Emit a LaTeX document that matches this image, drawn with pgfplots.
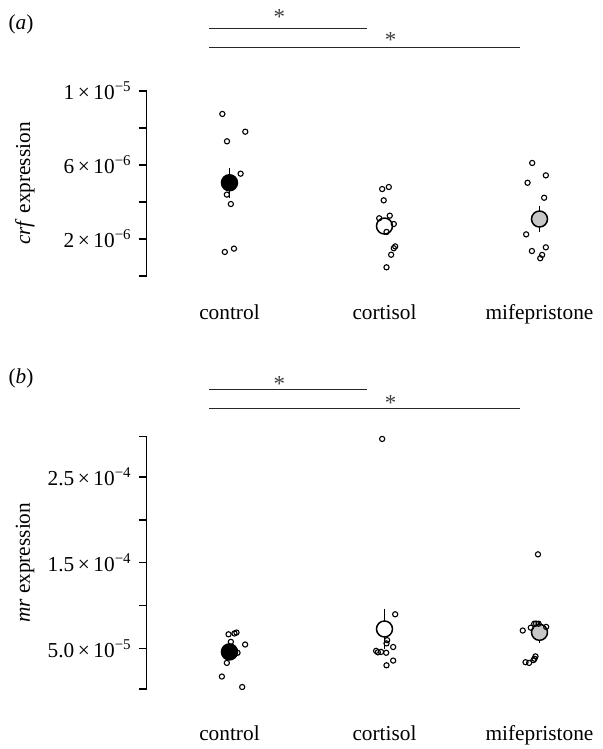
\documentclass[border=0pt]{standalone}
\usepackage{fontspec}
\setmainfont{Liberation Serif}
\usepackage{pgfplots}
\pgfplotsset{compat=1.18}

\pgfplotsset{
  panel/.style={
    scale only axis, width=227.4bp,
    xmin=0.466, xmax=3.4,
    axis y line*=left, axis x line*=bottom,
    x axis line style={draw=none},
    y axis line style={line width=0.6bp, -},
    xtick={1,2,3}, xticklabels={control,cortisol,mifepristone},
    xtick style={draw=none},
    ytick style={line width=0.6bp, black},
    tick align=outside, major tick length=4bp,
    scaled y ticks=false,
    clip=false,
    font=\fontsize{10.7}{12.5}\selectfont,
    xticklabel style={anchor=base},
    yticklabel style={anchor=east},
    ylabel style={at={(axis description cs:0,0.5)}, anchor=center, yshift=60.85bp},
  },
  pts/.style={only marks, mark=o, mark size=1.3bp, mark options={line width=0.55bp, black}},
  mean/.style={only marks, mark=*, mark size=4bp,
    mark options={draw=black, line width=0.75bp, fill=#1},
    error bars/.cd, y dir=both, y explicit, error mark=none,
    error bar style={line width=0.75bp, black}},
  sig/.style={black!85, line width=0.5bp, mark=none},
}
\tikzset{star/.style={font=\fontsize{11.5}{12}\selectfont, text=black!75, yshift=-1.6bp}}

\begin{document}
\begin{tikzpicture}
\useasboundingbox (-73.35bp,-236.5bp) rectangle (228.15bp,138bp);

% (a) crf
\begin{axis}[panel, at={(0,0)}, anchor=south west, height=92.5bp,
  ymin=0, ymax=1e-5,
  ytick={0,2e-6,4e-6,6e-6,8e-6,1e-5},
  yticklabels={{},{2\,×\,10\textsuperscript{−6}},{},{6\,×\,10\textsuperscript{−6}},{},{1\,×\,10\textsuperscript{−5}}},
  xticklabel style={yshift=-17.5bp},
  ylabel={\textit{crf} expression}]
\addplot[mean=black] coordinates {(1,5.04e-6) +- (0,0.81e-6)};
\addplot[mean=white] coordinates {(2,2.70e-6) +- (0,0.38e-6)};
\addplot[mean=black!22] coordinates {(3,3.08e-6) +- (0,0.69e-6)};
\addplot[pts] coordinates {
  (0.954,8.76e-6) (1.102,7.80e-6) (0.984,7.28e-6) (1.072,5.53e-6)
  (0.983,4.40e-6) (1.009,3.89e-6) (0.970,1.30e-6) (1.029,1.48e-6)};
\addplot[pts] coordinates {
  (1.985,4.70e-6) (2.028,4.81e-6) (1.995,4.09e-6) (1.966,3.12e-6)
  (2.034,3.26e-6) (2.060,2.81e-6) (2.013,2.38e-6) (2.069,1.60e-6)
  (2.060,1.50e-6) (2.043,1.15e-6) (2.013,0.47e-6)};
\addplot[pts] coordinates {
  (2.953,6.11e-6) (3.041,5.44e-6) (2.923,5.04e-6) (3.030,4.23e-6)
  (2.914,2.25e-6) (2.951,1.35e-6) (3.041,1.55e-6) (3.017,1.14e-6)
  (3.005,0.96e-6)};
\addplot[sig] coordinates {(0.870,1.3405e-5) (1.885,1.3405e-5)};
\addplot[sig] coordinates {(0.870,1.2378e-5) (2.874,1.2378e-5)};
\node[star] at (axis cs:1.321,1.416e-5) {*};
\node[star] at (axis cs:2.040,1.2935e-5) {*};
\end{axis}

% (b) mr
\begin{axis}[panel, at={(0,-206.5bp)}, anchor=south west, height=126.15bp,
  ymin=3.1e-6, ymax=2.969e-4,
  ytick={3.1e-6,5e-5,1e-4,1.5e-4,2e-4,2.5e-4,2.969e-4},
  yticklabels={{},{5.0\,×\,10\textsuperscript{−5}},{},{1.5\,×\,10\textsuperscript{−4}},{},{2.5\,×\,10\textsuperscript{−4}},{}},
  xticklabel style={yshift=-21.5bp},
  ylabel={\textit{mr} expression}]
\addplot[mean=black] coordinates {(1,4.63e-5) +- (0,0.6e-5)};
\addplot[mean=white] coordinates {(2,7.30e-5) +- (0,2.29e-5)};
\addplot[mean=black!22] coordinates {(3,6.91e-5) +- (0,1.28e-5)};
\addplot[pts] coordinates {
  (0.994,6.68e-5) (1.032,6.78e-5) (1.045,6.88e-5) (1.009,5.80e-5)
  (1.101,5.49e-5) (1.052,4.53e-5) (0.983,3.35e-5) (0.951,1.76e-5)
  (1.082,0.54e-5)};
\addplot[pts] coordinates {
  (1.985,2.943e-4) (2.069,9.01e-5) (2.017,6.00e-5) (2.013,5.62e-5)
  (2.056,5.20e-5) (1.946,4.75e-5) (1.957,4.58e-5) (1.978,4.63e-5)
  (2.011,4.53e-5) (2.056,3.62e-5) (2.013,3.07e-5)};
\addplot[pts] coordinates {
  (2.990,1.599e-4) (2.892,7.12e-5) (2.944,7.45e-5) (2.966,7.91e-5)
  (2.978,7.93e-5) (2.994,7.91e-5) (3.043,7.54e-5) (2.974,4.11e-5)
  (2.968,3.83e-5) (2.961,3.68e-5) (2.910,3.43e-5) (2.933,3.35e-5)};
\addplot[sig] coordinates {(0.870,3.521e-4) (1.885,3.521e-4)};
\addplot[sig] coordinates {(0.870,3.30e-4) (2.874,3.30e-4)};
\node[star] at (axis cs:1.321,3.621e-4) {*};
\node[star] at (axis cs:2.040,3.397e-4) {*};
\end{axis}

\node at (-62.85bp,126bp) {\fontsize{10.7}{12.5}\selectfont(\textit{a})};
\node at (-62.85bp,-51bp) {\fontsize{10.7}{12.5}\selectfont(\textit{b})};
\end{tikzpicture}
\end{document}
